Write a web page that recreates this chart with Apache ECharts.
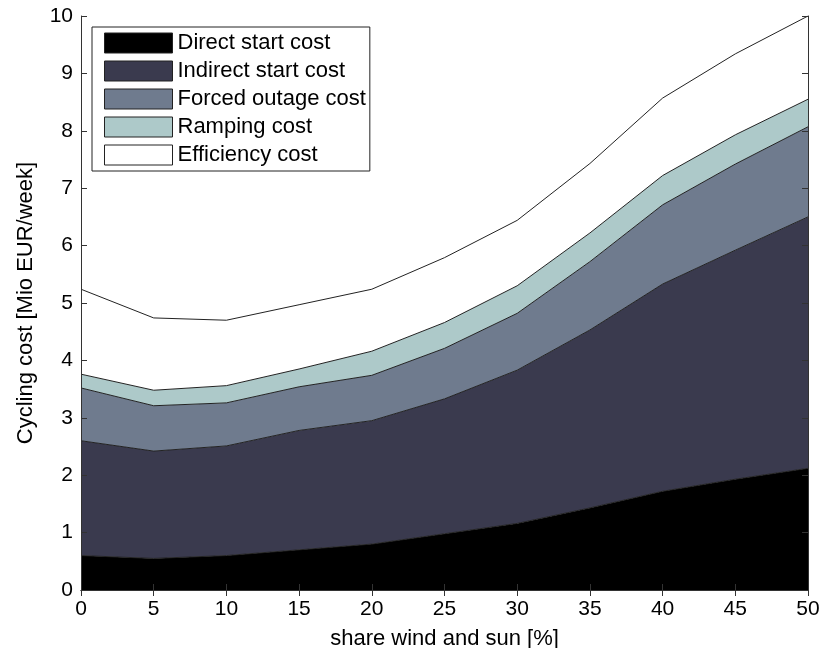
<!DOCTYPE html>
<html lang="en">
<head>
    <meta charset="utf-8" />
    <title>Cycling cost</title>
    <script src="https://cdn.jsdelivr.net/npm/echarts@6/dist/echarts.min.js"></script>
    <style>
        html, body { margin: 0; padding: 0; background: #fff; }
        #main { width: 838px; height: 648px; }
    </style>
</head>
<body>
<div id="main"></div>
<script type="text/javascript">
    // share wind and sun [%]
    var shares = ['0', '5', '10', '15', '20', '25', '30', '35', '40', '45', '50'];
    // cost components [Mio EUR/week], stacked from bottom to top
    var directStart = [0.60, 0.55, 0.60, 0.70, 0.80, 0.98, 1.16, 1.43, 1.72, 1.93, 2.12];
    var indirectStart = [2.00, 1.87, 1.91, 2.08, 2.15, 2.35, 2.67, 3.10, 3.61, 3.99, 4.38];
    var forcedOutage = [0.92, 0.79, 0.75, 0.76, 0.79, 0.88, 0.99, 1.19, 1.38, 1.50, 1.57];
    var ramping = [0.24, 0.27, 0.30, 0.31, 0.42, 0.45, 0.48, 0.50, 0.51, 0.51, 0.48];
    var efficiency = [1.48, 1.26, 1.14, 1.12, 1.08, 1.13, 1.14, 1.21, 1.35, 1.41, 1.45];

    var names = ['Direct start cost', 'Indirect start cost', 'Forced outage cost', 'Ramping cost', 'Efficiency cost'];
    var fills = ['#000000', '#3a3a4e', '#6f7b8e', '#adc9c9', '#ffffff'];
    var values = [directStart, indirectStart, forcedOutage, ramping, efficiency];

    var font = 'Liberation Sans, Arial, sans-serif';

    var series = [];
    for (var i = 0; i < names.length; i++) {
        series.push({
            name: names[i],
            type: 'line',
            stack: 'cost',
            data: values[i],
            showSymbol: false,
            symbol: 'none',
            color: fills[i],
            itemStyle: { color: fills[i], borderColor: '#222', borderWidth: 1 },
            lineStyle: { color: '#222', width: 1 },
            areaStyle: { color: fills[i], opacity: 1 },
            z: 2
        });
    }

    var myChart = echarts.init(document.getElementById('main'));
    var option = {
        animation: false,
        backgroundColor: '#ffffff',
        grid: { left: 81, right: 30, top: 16, bottom: 58, outerBoundsMode: 'none', containLabel: false },
        legend: {
            data: names,
            orient: 'vertical',
            left: 92,
            top: 27,
            icon: 'rect',
            itemWidth: 68,
            itemHeight: 20,
            itemGap: 6,
            padding: [5, 4, 5, 12],
            borderColor: '#222',
            borderWidth: 1,
            backgroundColor: '#ffffff',
            itemStyle: { borderColor: '#222', borderWidth: 1 },
            textStyle: { fontFamily: font, fontSize: 22, color: '#000', lineHeight: 20 }
        },
        xAxis: [
            {
                type: 'category',
                boundaryGap: false,
                data: shares,
                name: 'share wind and sun [%]',
                nameLocation: 'middle',
                nameGap: 38,
                nameTextStyle: { fontFamily: font, fontSize: 22, color: '#000' },
                axisLine: { lineStyle: { color: '#333', width: 1 } },
                axisTick: { inside: true, length: 6, lineStyle: { color: '#333' } },
                axisLabel: { fontFamily: font, fontSize: 21, color: '#000', margin: 9 },
                splitLine: { show: false },
                z: 5
            },
            {
                type: 'category',
                boundaryGap: false,
                data: shares,
                position: 'top',
                axisLine: { lineStyle: { color: '#333', width: 1 } },
                axisTick: { inside: true, length: 6, lineStyle: { color: '#333' } },
                axisLabel: { show: false },
                splitLine: { show: false },
                z: 5
            }
        ],
        yAxis: [
            {
                type: 'value',
                min: 0,
                max: 10,
                interval: 1,
                name: 'Cycling cost [Mio EUR/week]',
                nameLocation: 'middle',
                nameGap: 44,
                nameTextStyle: { fontFamily: font, fontSize: 22, color: '#000' },
                axisLine: { show: true, lineStyle: { color: '#333', width: 1 } },
                axisTick: { show: true, inside: true, length: 6, lineStyle: { color: '#333' } },
                axisLabel: { fontFamily: font, fontSize: 21, color: '#000', margin: 8 },
                splitLine: { show: false },
                z: 5
            },
            {
                type: 'value',
                min: 0,
                max: 10,
                interval: 1,
                position: 'right',
                axisLine: { show: true, lineStyle: { color: '#333', width: 1 } },
                axisTick: { show: true, inside: true, length: 6, lineStyle: { color: '#333' } },
                axisLabel: { show: false },
                splitLine: { show: false },
                z: 5
            }
        ],
        series: series
    };
    myChart.setOption(option);
</script>
</body>
</html>
